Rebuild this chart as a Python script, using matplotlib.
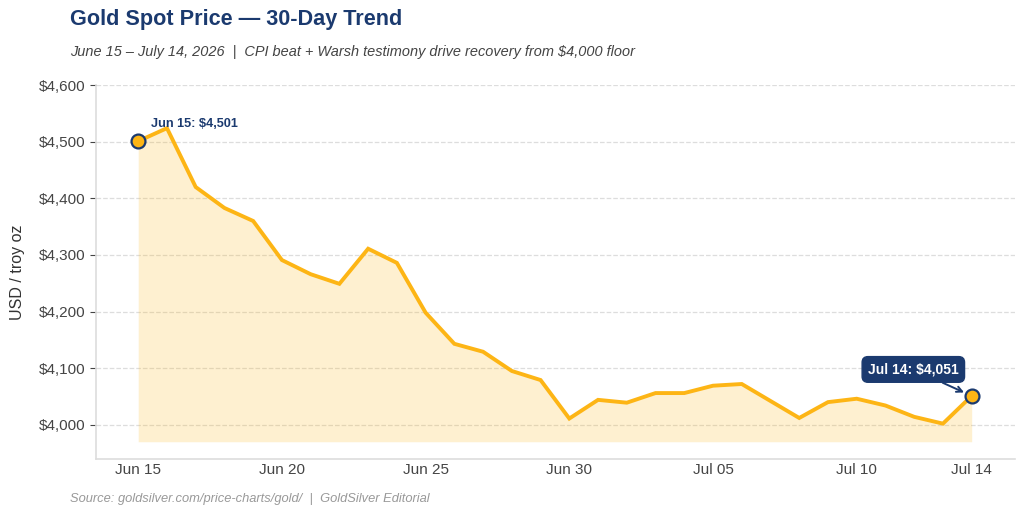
import matplotlib.pyplot as plt
import matplotlib.dates as mdates
import numpy as np
import pandas as pd

plt.rcParams['font.family'] = ['Liberation Sans', 'DejaVu Sans']

# daily gold spot price, USD / troy oz
dates = pd.date_range('2026-06-15', '2026-07-14', freq='D')
prices = [4501, 4524, 4420, 4383, 4360, 4291, 4266, 4249, 4311, 4286,
          4198, 4143, 4129, 4095, 4079, 4011, 4044, 4039, 4056, 4056,
          4069, 4072, 4042, 4012, 4040, 4046, 4034, 4014, 4002, 4051]
fill_floor = 3970
tick_dates = ['2026-06-15', '2026-06-20', '2026-06-25', '2026-06-30',
              '2026-07-05', '2026-07-10', '2026-07-14']

gold = '#FDB515'
navy = '#1B3A6F'

fig = plt.figure(figsize=(10.24, 5.16), dpi=100)
ax = fig.add_axes([0.094, 0.111, 0.897, 0.724])

ax.fill_between(dates, prices, fill_floor, color=gold, alpha=0.2, linewidth=0)
ax.plot(dates, prices, color=gold, linewidth=2.8, solid_joinstyle='miter')
ax.plot([dates[0], dates[-1]], [prices[0], prices[-1]], 'o', markersize=10,
        markerfacecolor=gold, markeredgecolor=navy, markeredgewidth=1.6, zorder=5)

ax.annotate(f"Jun 15: ${prices[0]:,}", (dates[0], prices[0]),
            xytext=(9, 8), textcoords='offset points',
            fontsize=9.2, fontweight='bold', color=navy, va='bottom')
ax.annotate(f"Jul 14: ${prices[-1]:,}", (dates[-1], prices[-1]),
            xytext=(-42, 14), textcoords='offset points',
            fontsize=10, fontweight='bold', color='white', ha='center', va='bottom',
            bbox=dict(boxstyle='round,pad=0.42', fc=navy, ec=navy),
            arrowprops=dict(arrowstyle='->', color=navy, lw=1.4, shrinkA=0, shrinkB=6))

ax.set_ylim(3940, 4600)
ax.set_yticks(np.arange(4000, 4601, 100))
ax.yaxis.set_major_formatter(plt.FuncFormatter(lambda v, p: f"${v:,.0f}"))
ax.set_xticks(pd.to_datetime(tick_dates))
ax.xaxis.set_major_formatter(mdates.DateFormatter('%b %d'))
ax.set_xlim(dates[0] - pd.Timedelta(days=1.46), dates[-1] + pd.Timedelta(days=1.5))

ax.grid(axis='y', color='#dddddd', linestyle='--', linewidth=0.9)
ax.set_axisbelow(True)
for side in ['top', 'right']:
    ax.spines[side].set_visible(False)
for side in ['left', 'bottom']:
    ax.spines[side].set_color('#dddddd')
    ax.spines[side].set_linewidth(1.2)
ax.tick_params(axis='y', colors='#444444', labelsize=11, length=4, labelcolor='#444444')
ax.tick_params(axis='x', length=0, labelsize=11, labelcolor='#444444', pad=3)
ax.set_ylabel('USD / troy oz', fontsize=11.5, color='#333333', labelpad=10)

fig.text(0.068, 0.962, 'Gold Spot Price \u2014 30-Day Trend', fontsize=15.6,
         fontweight='bold', color=navy, va='center')
fig.text(0.068, 0.899, 'June 15 \u2013 July 14, 2026  |  CPI beat + Warsh testimony drive recovery from $4,000 floor',
         fontsize=10.45, style='italic', color='#444444', va='center')
fig.text(0.068, 0.033, 'Source: goldsilver.com/price-charts/gold/  |  GoldSilver Editorial',
         fontsize=9.3, style='italic', color='#999999', va='center')

fig.savefig('out.png', dpi=100)
